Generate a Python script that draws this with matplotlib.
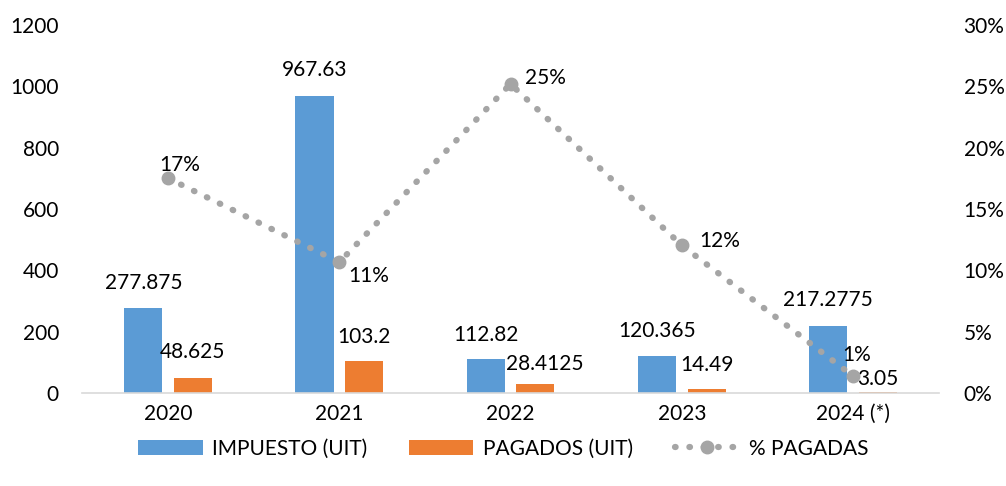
import matplotlib.pyplot as plt
import numpy as np

years = ['2020', '2021', '2022', '2023', '2024 (*)']
impuesto = [277.875, 967.63, 112.82, 120.365, 217.2775]
pagados = [48.625, 103.2, 28.4125, 14.49, 3.05]
impuesto_lbl = ['277.875', '967.63', '112.82', '120.365', '217.2775']
pagados_lbl = ['48.625', '103.2', '28.4125', '14.49', '3.05']
pct_pagadas = [0.175, 0.1067, 0.2518, 0.1204, 0.014]
pct_labels = ['17%', '11%', '25%', '12%', '1%']

plt.rcParams['font.family'] = ['Lato', 'DejaVu Sans']
plt.rcParams['font.size'] = 15

blue = '#5B9BD5'
orange = '#ED7D31'
grey = '#A5A5A5'

fig = plt.figure(figsize=(10.06, 4.86), dpi=100)
ax = fig.add_axes([0.082, 0.191, 0.851, 0.758])
ax2 = ax.twinx()

x = np.arange(len(years))
w = 0.222
b1 = ax.bar(x - 0.145, impuesto, w, color=blue)
b2 = ax.bar(x + 0.145, pagados, w, color=orange)

# Posición de las etiquetas (px -> pt)
px = 0.72
off_imp = [(0, 25), (0, 26), (0, 24), (0, 25), (0, 26)]
off_pag = [(0, 26), (0, 24), (9, 20), (0, 24), (0, 13)]
for xi, v, lab, o in zip(x, impuesto, impuesto_lbl, off_imp):
    ax.annotate(lab, (xi - 0.145, v), xytext=(o[0] * px, o[1] * px),
                textcoords='offset points', ha='center', va='center')
for xi, v, lab, o in zip(x, pagados, pagados_lbl, off_pag):
    ax.annotate(lab, (xi + 0.145, v), xytext=(o[0] * px, o[1] * px),
                textcoords='offset points', ha='center', va='center')

ax.set_xlim(-0.5, len(years) - 0.5)
ax.set_ylim(0, 1200)
ax.set_yticks(range(0, 1201, 200))
ax.set_xticks(x)
ax.set_xticklabels(years)

ln, = ax2.plot(x, pct_pagadas, color=grey, linestyle=(0, (0.1, 2.2)), linewidth=4.5,
               dash_capstyle='round', marker='o', markersize=9)
ax2.set_ylim(0, 0.30)
ticks2 = np.arange(0, 0.301, 0.05)
ax2.set_yticks(ticks2)
ax2.set_yticklabels([f'{int(round(t * 100))}%' for t in ticks2])

# Etiquetas de la línea
off_pct = [(12, 13), (29, -14), (35, 6), (38, 4), (4, 21)]
for xi, v, lab, o in zip(x, pct_pagadas, pct_labels, off_pct):
    ax2.annotate(lab, (xi, v), xytext=(o[0] * px, o[1] * px),
                 textcoords='offset points', ha='center', va='center')

for a in (ax, ax2):
    for s in ('top', 'left', 'right'):
        a.spines[s].set_visible(False)
    a.tick_params(length=0)
ax.spines['bottom'].set_color('#D9D9D9')
ax.spines['bottom'].set_linewidth(1.2)
ax2.spines['bottom'].set_visible(False)
ax.tick_params(axis='y', pad=17)
ax2.tick_params(axis='y', pad=18)
ax.tick_params(axis='x', pad=8)

fig.legend([b1, b2, ln], ['IMPUESTO (UIT)', 'PAGADOS (UIT)', '% PAGADAS'],
           loc='upper center', bbox_to_anchor=(0.5, 0.097), ncol=3, frameon=False,
           handlelength=3.1, handleheight=0.75, columnspacing=2.0, handletextpad=0.45,
           borderaxespad=0, borderpad=0)

fig.savefig('out.png', dpi=100)
